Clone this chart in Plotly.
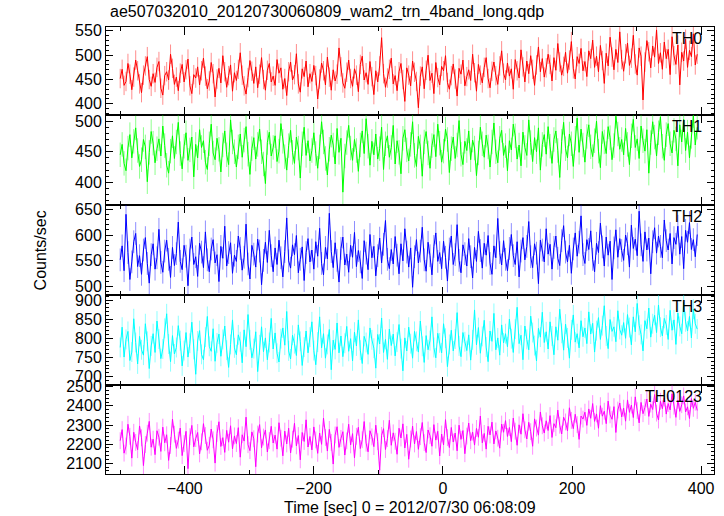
import plotly.graph_objects as go
from plotly.subplots import make_subplots

title_text = "ae507032010_20120730060809_wam2_trn_4band_long.qdp"
band_names = ["TH0", "TH1", "TH2", "TH3", "TH0123"]
colors = ["#ff0000", "#00ff00", "#0000ff", "#00ffff", "#ff00ff"]
err_colors = ["rgba(255,0,0,0.45)", "rgba(0,255,0,0.45)", "rgba(0,0,255,0.45)",
              "rgba(0,255,255,0.45)", "rgba(255,0,255,0.45)"]

# bin centres (s) relative to 2012/07/30 06:08:09
time_sec = list(range(-500, 395, 3))

th0 = [452, 471, 438, 446, 483, 461, 429, 455, 490, 468, 441, 423, 459, 478, 497, 450, 436, 462, 444, 475,
       487, 432, 418, 458, 466, 449, 502, 473, 440, 455, 427, 463, 481, 445, 470, 492, 437, 421, 460, 453,
       476, 439, 468, 494, 457, 431, 447, 485, 462, 414, 451, 473, 443, 499, 466, 434, 458, 480, 426, 464,
       448, 471, 505, 459, 437, 420, 454, 489, 467, 442, 476, 433, 461, 495, 450, 428, 469, 483, 445, 457,
       438, 491, 463, 474, 430, 452, 417, 466, 486, 449, 460, 503, 441, 424, 472, 456, 488, 435, 462, 446,
       479, 458, 410, 451, 484, 468, 439, 496, 455, 428, 470, 447, 461, 515, 476, 443, 432, 465, 490, 452,
       436, 472, 459, 425, 481, 498, 449, 464, 440, 487, 456, 419, 468, 445, 478, 536, 462, 434, 453, 471,
       494, 441, 458, 427, 466, 483, 450, 405, 474, 459, 437, 488, 465, 446, 392, 457, 476, 431, 469, 500,
       448, 463, 421, 485, 454, 439, 477, 468, 499, 444, 430, 458, 482, 451, 416, 473, 461, 490, 437, 456,
       470, 448, 502, 464, 426, 481, 459, 443, 475, 495, 452, 433, 467, 486, 458, 440, 478, 509, 463, 449,
       484, 457, 472, 430, 491, 468, 453, 511, 476, 445, 488, 462, 499, 471, 438, 480, 517, 466, 493, 455,
       474, 502, 481, 447, 495, 469, 524, 486, 459, 477, 506, 463, 490, 528, 472, 451, 497, 483, 514, 468,
       487, 456, 509, 493, 531, 475, 498, 466, 520, 489, 442, 504, 478, 537, 496, 470, 512, 485, 548, 491,
       467, 503, 525, 479, 494, 541, 482, 459, 515, 498, 408, 486, 530, 507, 474, 519, 496, 552, 483, 505,
       471, 527, 493, 512, 460, 538, 499, 481, 521, 439, 506, 488, 533, 475, 510, 497, 544, 480, 502]

th1 = [445, 462, 431, 419, 456, 478, 440, 467, 489, 452, 426, 437, 470, 458, 401, 449, 483, 464, 432, 455,
       471, 443, 492, 460, 428, 415, 451, 476, 439, 466, 498, 447, 422, 459, 481, 436, 453, 474, 409, 462,
       440, 486, 457, 468, 433, 421, 463, 495, 448, 437, 472, 454, 417, 461, 484, 445, 429, 502, 466, 450,
       425, 458, 479, 441, 469, 491, 446, 413, 455, 473, 438, 462, 487, 450, 430, 398, 465, 482, 443, 457,
       476, 434, 451, 496, 467, 442, 420, 460, 485, 449, 431, 474, 456, 407, 463, 490, 444, 468, 435, 452,
       481, 447, 423, 458, 499, 466, 439, 412, 454, 477, 461, 430, 488, 449, 472, 384, 443, 465, 493, 456,
       436, 470, 452, 418, 461, 484, 447, 504, 459, 428, 467, 445, 479, 438, 455, 490, 421, 463, 476, 441,
       457, 493, 430, 468, 449, 414, 472, 486, 453, 435, 462, 499, 444, 426, 475, 458, 410, 466, 483, 448,
       423, 460, 478, 442, 495, 464, 433, 451, 487, 470, 416, 455, 474, 439, 461, 501, 446, 429, 467, 452,
       484, 437, 469, 456, 411, 448, 490, 463, 441, 477, 458, 425, 466, 497, 450, 432, 472, 485, 444, 460,
       419, 468, 453, 495, 476, 438, 461, 427, 482, 457, 444, 502, 465, 434, 473, 450, 489, 420, 462, 478,
       446, 491, 459, 431, 470, 484, 452, 408, 467, 498, 455, 440, 479, 463, 426, 472, 505, 449, 487, 461,
       433, 475, 494, 458, 442, 468, 500, 451, 424, 483, 466, 447, 491, 473, 437, 460, 508, 479, 454, 470,
       445, 488, 462, 429, 476, 503, 457, 471, 439, 492, 468, 451, 486, 415, 465, 499, 474, 443, 481, 507,
       459, 436, 478, 496, 463, 448, 485, 471, 427, 494, 466, 503, 452, 482, 440, 475, 509, 461, 490]

th2 = [552, 579, 531, 640, 566, 514, 548, 587, 603, 539, 560, 524, 571, 595, 545, 507, 562, 583, 534, 556,
       611, 547, 528, 569, 590, 553, 518, 576, 541, 564, 625, 549, 533, 580, 559, 502, 571, 596, 543, 558,
       520, 584, 567, 537, 606, 552, 529, 573, 591, 546, 562, 510, 578, 555, 617, 540, 566, 585, 526, 561,
       549, 598, 574, 532, 557, 621, 544, 515, 580, 563, 538, 592, 569, 504, 551, 586, 547, 609, 560, 529,
       575, 543, 590, 556, 519, 568, 633, 550, 536, 581, 562, 599, 527, 553, 577, 512, 566, 593, 548, 571,
       534, 587, 559, 613, 545, 523, 576, 554, 642, 568, 537, 585, 551, 509, 574, 596, 542, 563, 528, 580,
       557, 605, 539, 570, 548, 516, 589, 565, 533, 601, 556, 578, 521, 560, 594, 546, 582, 628, 553, 535,
       572, 544, 597, 561, 525, 583, 550, 612, 567, 538, 575, 499, 558, 591, 546, 569, 615, 552, 530, 586,
       560, 523, 578, 604, 549, 566, 535, 588, 557, 511, 573, 598, 543, 562, 620, 551, 527, 581, 564, 540,
       593, 558, 517, 576, 549, 607, 570, 536, 584, 561, 599, 545, 524, 579, 556, 632, 566, 542, 589, 553,
       531, 574, 601, 560, 543, 587, 519, 569, 595, 552, 578, 626, 558, 537, 583, 565, 506, 590, 571, 548,
       612, 563, 582, 534, 576, 598, 555, 541, 589, 618, 567, 548, 580, 526, 573, 604, 559, 586, 637, 562,
       545, 591, 572, 608, 553, 529, 584, 566, 623, 577, 540, 596, 561, 588, 514, 575, 610, 557, 593, 570,
       551, 600, 583, 538, 619, 574, 592, 560, 646, 581, 549, 606, 571, 594, 525, 587, 614, 565, 598, 578,
       556, 629, 589, 571, 603, 544, 595, 582, 617, 563, 597, 535, 609, 586, 624, 572, 591, 558, 601]

th3 = [776, 829, 751, 797, 818, 742, 764, 851, 789, 733, 805, 770, 756, 838, 792, 721, 780, 812, 763, 845,
       798, 747, 772, 826, 864, 785, 739, 807, 759, 776, 833, 794, 728, 768, 815, 751, 787, 842, 771, 706,
       793, 820, 758, 744, 803, 857, 779, 766, 825, 740, 788, 811, 753, 797, 832, 769, 724, 784, 848, 775,
       757, 809, 791, 736, 822, 778, 862, 796, 749, 773, 817, 713, 783, 830, 765, 801, 744, 789, 852, 772,
       814, 761, 738, 799, 827, 782, 870, 767, 746, 808, 786, 755, 835, 792, 729, 777, 819, 762, 803, 843,
       768, 731, 790, 856, 775, 812, 748, 784, 823, 718, 795, 771, 840, 762, 806, 752, 787, 831, 766, 799,
       741, 816, 780, 848, 769, 734, 805, 789, 758, 827, 796, 774, 722, 810, 785, 853, 763, 797, 745, 824,
       781, 811, 754, 790, 836, 773, 715, 801, 767, 829, 786, 748, 818, 792, 764, 845, 779, 737, 807, 770,
       794, 856, 776, 749, 813, 788, 762, 838, 800, 726, 784, 821, 767, 798, 867, 780, 752, 815, 791, 768,
       809, 743, 796, 874, 783, 828, 761, 805, 847, 777, 739, 819, 792, 865, 770, 801, 756, 835, 788, 812,
       778, 850, 799, 763, 824, 881, 786, 808, 744, 832, 797, 770, 858, 815, 781, 741, 826, 803, 868, 789,
       817, 772, 843, 806, 757, 830, 795, 876, 813, 769, 837, 801, 748, 822, 861, 790, 812, 775, 846, 804,
       827, 786, 869, 811, 839, 764, 820, 854, 797, 833, 885, 806, 773, 849, 818, 830, 791, 872, 823, 808,
       841, 800, 862, 828, 783, 856, 817, 891, 834, 810, 767, 846, 825, 879, 803, 838, 860, 815, 887, 829,
       806, 852, 835, 797, 873, 821, 848, 784, 866, 831, 812, 894, 843, 819, 857, 801, 876, 838, 824]

th0123 = [2218, 2276, 2153, 2190, 2304, 2241, 2127, 2262, 2209, 2171, 2295, 2233, 2088, 2198, 2257, 2319, 2184, 2226, 2145, 2270,
          2236, 2162, 2289, 2207, 2249, 2115, 2193, 2331, 2252, 2178, 2221, 2284, 2140, 2203, 2267, 2072, 2239, 2298, 2186, 2229,
          2261, 2149, 2212, 2307, 2245, 2168, 2194, 2279, 2223, 2101, 2256, 2317, 2188, 2234, 2157, 2272, 2210, 2296, 2175, 2243,
          2203, 2286, 2132, 2249, 2216, 2341, 2197, 2166, 2264, 2228, 2082, 2253, 2302, 2181, 2237, 2274, 2159, 2219, 2293, 2206,
          2247, 2174, 2312, 2231, 2139, 2268, 2201, 2283, 2154, 2226, 2309, 2191, 2245, 2118, 2261, 2214, 2327, 2185, 2240, 2170,
          2290, 2222, 2152, 2258, 2199, 2336, 2235, 2164, 2277, 2209, 2096, 2248, 2291, 2183, 2230, 2265, 2143, 2217, 2304, 2196,
          2255, 2128, 2241, 2288, 2177, 2223, 2318, 2205, 2160, 2270, 2238, 2187, 2299, 2213, 2064, 2246, 2281, 2172, 2229, 2325,
          2194, 2259, 2215, 2147, 2283, 2232, 2306, 2180, 2251, 2121, 2227, 2294, 2201, 2266, 2173, 2239, 2313, 2208, 2156, 2274,
          2244, 2189, 2302, 2221, 2267, 2138, 2253, 2196, 2328, 2234, 2182, 2287, 2211, 2258, 2165, 2299, 2225, 2271, 2150, 2242,
          2310, 2218, 2263, 2195, 2282, 2236, 2347, 2207, 2256, 2174, 2293, 2248, 2315, 2201, 2269, 2231, 2179, 2305, 2262, 2323,
          2240, 2287, 2213, 2336, 2268, 2194, 2301, 2252, 2359, 2275, 2227, 2314, 2265, 2189, 2332, 2284, 2247, 2368, 2296, 2258,
          2322, 2271, 2349, 2235, 2307, 2286, 2378, 2299, 2253, 2341, 2316, 2269, 2390, 2324, 2281, 2356, 2302, 2225, 2347, 2331,
          2367, 2298, 2384, 2335, 2412, 2319, 2358, 2283, 2401, 2346, 2372, 2307, 2425, 2353, 2330, 2396, 2261, 2378, 2415, 2342,
          2388, 2320, 2431, 2366, 2404, 2339, 2447, 2375, 2311, 2418, 2359, 2392, 2436, 2345, 2409, 2381, 2459, 2362, 2326, 2424,
          2385, 2441, 2357, 2412, 2379, 2463, 2398, 2340, 2429, 2371, 2406, 2452, 2368, 2395, 2334, 2438, 2387, 2419, 2376]

band_errors = [20, 20, 22, 26, 44]
y_ranges = [[377, 558], [363, 510], [484, 658], [678, 913], [2044, 2509]]
y_dticks = [50, 50, 50, 50, 100]
y_minor = [10, 10, 10, 10, 20]

series = [th0, th1, th2, th3, th0123]

# panel boundaries (page px): 27,115,205,295,385,474 ; plot area height 447
domains = [[0.8031, 1.0], [0.6018, 0.8031], [0.4004, 0.6018], [0.1991, 0.4004], [0.0, 0.1991]]

FONT = "Liberation Sans, Arial, Helvetica, sans-serif"

fig = make_subplots(rows=5, cols=1, shared_xaxes=True, vertical_spacing=0)

for k in range(5):
    fig.add_trace(go.Scatter(
        x=time_sec, y=series[k], mode="lines",
        line=dict(color=colors[k], width=1),
        error_y=dict(type="constant", value=band_errors[k], color=err_colors[k],
                     thickness=1, width=0),
        showlegend=False, hoverinfo="skip"), row=k + 1, col=1)

axis_common = dict(showline=True, linecolor="black", linewidth=1, mirror="allticks",
                   ticks="inside", tickcolor="black", showgrid=False, zeroline=False,
                   tickfont=dict(family=FONT, size=16, color="black"))

for k in range(5):
    xa = "xaxis" if k == 0 else f"xaxis{k+1}"
    ya = "yaxis" if k == 0 else f"yaxis{k+1}"
    fig.layout[xa].update(range=[-522, 420], tick0=0, dtick=200, ticklen=8, tickwidth=1,
                          minor=dict(dtick=100, ticklen=4, ticks="inside", tickcolor="black"),
                          showticklabels=(k == 4), **axis_common)
    fig.layout[ya].update(range=y_ranges[k], domain=domains[k], dtick=y_dticks[k], ticklen=7,
                          tickwidth=1,
                          minor=dict(dtick=y_minor[k], ticklen=3, ticks="inside", tickcolor="black"),
                          **axis_common)

annotations = [
    dict(text=title_text, x=0.003, y=1.034, xref="paper", yref="paper", xanchor="left",
         yanchor="middle", showarrow=False, font=dict(family=FONT, size=16, color="black")),
    dict(text="Counts/sec", x=-0.108, y=0.501, xref="paper", yref="paper", textangle=-90,
         xanchor="center", yanchor="middle", showarrow=False,
         font=dict(family=FONT, size=16, color="black")),
    dict(text="Time [sec] 0 = 2012/07/30 06:08:09", x=0.5, y=-0.076, xref="paper", yref="paper",
         xanchor="center", yanchor="middle", showarrow=False,
         font=dict(family=FONT, size=16, color="black")),
]
label_tops = [1.0, 0.8031, 0.6018, 0.4004, 0.1991]
for k in range(5):
    annotations.append(dict(text=band_names[k], x=0.984, y=label_tops[k] - 0.002,
                            xref="paper", yref="paper", xanchor="right", yanchor="top",
                            showarrow=False, font=dict(family=FONT, size=16, color="black")))

fig.update_layout(width=724, height=516, margin=dict(l=106, r=10, t=27, b=42),
                  paper_bgcolor="white", plot_bgcolor="white", annotations=annotations)

# remove the browser's default 8 px body margin so the figure sits at the page origin
fig.write_html("out.html", config={"displayModeBar": False},
               post_script="document.body.style.margin='0';document.body.style.padding='0';")
